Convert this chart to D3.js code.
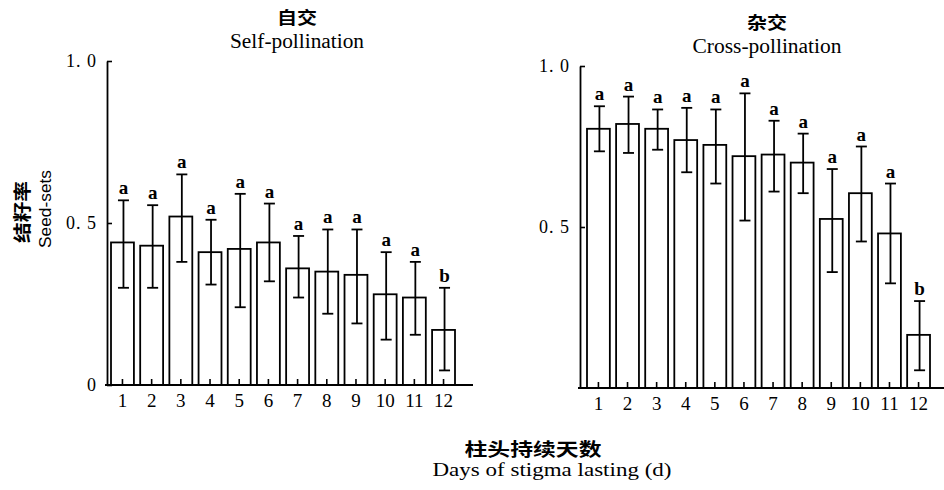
<!DOCTYPE html>
<html>
<head>
<meta charset="utf-8">
<script src="https://cdn.jsdelivr.net/npm/d3@7/dist/d3.min.js"></script>
<style>
  body { margin: 0; background: #fff; }
  text { fill: #000; }
  .serif { font-family: "Liberation Serif", "Times New Roman", serif; }
  .cjk { font-family: "Noto Sans CJK SC", sans-serif; font-weight: 700; }
</style>
</head>
<body>
<div id="chart"></div>
<script>
// stigma lasting days
var days = ["1","2","3","4","5","6","7","8","9","10","11","12"];

// self-pollination seed-sets (mean, upper and lower end of error bar)
var selfMean = [0.44, 0.43, 0.52, 0.41, 0.42, 0.44, 0.36, 0.35, 0.34, 0.28, 0.27, 0.17];
var selfHi   = [0.57, 0.555, 0.65, 0.51, 0.59, 0.56, 0.46, 0.48, 0.48, 0.41, 0.38, 0.30];
var selfLo   = [0.30, 0.30, 0.38, 0.31, 0.24, 0.32, 0.27, 0.22, 0.19, 0.14, 0.155, 0.045];
var selfSig  = ["a","a","a","a","a","a","a","a","a","a","a","b"];

// cross-pollination seed-sets
var crossMean = [0.805, 0.82, 0.805, 0.77, 0.755, 0.72, 0.725, 0.70, 0.525, 0.605, 0.48, 0.165];
var crossHi   = [0.875, 0.905, 0.865, 0.87, 0.865, 0.915, 0.83, 0.79, 0.68, 0.75, 0.635, 0.27];
var crossLo   = [0.735, 0.73, 0.74, 0.67, 0.635, 0.52, 0.61, 0.605, 0.36, 0.455, 0.325, 0.055];
var crossSig  = ["a","a","a","a","a","a","a","a","a","a","a","b"];

var selfTicks = [0, 0.5, 1.0];
var crossTicks = [0.5, 1.0];

var width = 944, height = 490;

var svg = d3.select("#chart")
  .append("svg")
  .attr("width", width)
  .attr("height", height);

function fmt(v) {
  if (v === 0) return "0";
  return d3.format(".1f")(v).replace(".", ". ");
}

function DrawPanel(opt) {
  var x = d3.scaleBand()
    .domain(days)
    .range([opt.left, opt.right])
    .paddingInner(0.215)
    .paddingOuter(0);
  var y = d3.scaleLinear()
    .domain([0, 1])
    .range([opt.bottom, opt.top]);

  var data = days.map(function(d, i) {
    return { day: d, mean: opt.mean[i], hi: opt.hi[i], lo: opt.lo[i], sig: opt.sig[i] };
  });

  var g = svg.append("g");

  // bars
  g.selectAll(".bar")
    .data(data)
    .enter().append("rect")
    .attr("x", function(d) { return x(d.day); })
    .attr("width", x.bandwidth())
    .attr("y", function(d) { return y(d.mean); })
    .attr("height", function(d) { return y(0) - y(d.mean); })
    .attr("fill", "#fff")
    .attr("stroke", "#000")
    .attr("stroke-width", 1.8);

  // error bars
  var cap = 5.5;
  var eb = g.selectAll(".err")
    .data(data)
    .enter().append("g")
    .attr("transform", function(d) { return "translate(" + (x(d.day) + x.bandwidth() / 2 + 1) + ",0)"; });
  eb.append("line")
    .attr("y1", function(d) { return y(d.lo); })
    .attr("y2", function(d) { return y(d.hi); })
    .attr("stroke", "#000").attr("stroke-width", 1.8);
  eb.append("line")
    .attr("x1", -cap).attr("x2", cap)
    .attr("y1", function(d) { return y(d.hi); })
    .attr("y2", function(d) { return y(d.hi); })
    .attr("stroke", "#000").attr("stroke-width", 1.8);
  eb.append("line")
    .attr("x1", -cap).attr("x2", cap)
    .attr("y1", function(d) { return y(d.lo); })
    .attr("y2", function(d) { return y(d.lo); })
    .attr("stroke", "#000").attr("stroke-width", 1.8);
  eb.append("text")
    .attr("class", "serif")
    .attr("y", function(d) { return y(d.hi) - 6; })
    .attr("text-anchor", "middle")
    .style("font-size", "19px")
    .style("font-weight", "bold")
    .text(function(d) { return d.sig; });

  // x axis
  var xAxis = g.append("g")
    .attr("transform", "translate(0," + y(0) + ")")
    .call(d3.axisBottom(x).tickSizeInner(-6).tickSizeOuter(0).tickPadding(9));
  xAxis.select(".domain").remove();
  xAxis.selectAll(".tick line").attr("stroke-width", 1.6);
  xAxis.selectAll("text")
    .attr("class", "serif")
    .style("font-size", "19px");
  g.append("line")
    .attr("x1", opt.axisX - 2).attr("x2", opt.axisEnd)
    .attr("y1", y(0)).attr("y2", y(0))
    .attr("stroke", "#000").attr("stroke-width", 1.8);

  // y axis
  var yAxis = g.append("g")
    .attr("transform", "translate(" + opt.axisX + ",0)")
    .call(d3.axisLeft(y).tickValues(opt.ticks).tickFormat(fmt)
      .tickSizeInner(-5).tickSizeOuter(0).tickPadding(10));
  yAxis.select(".domain").attr("stroke-width", 1.8);
  yAxis.selectAll(".tick line").attr("stroke-width", 1.6);
  yAxis.selectAll("text")
    .attr("class", "serif")
    .style("font-size", "18px")
    .style("letter-spacing", "1px");

  // titles
  g.append("text")
    .attr("class", "cjk")
    .attr("x", opt.titleX)
    .attr("y", opt.top - 37)
    .attr("text-anchor", "middle")
    .style("font-size", "17px")
    .attr("textLength", 40)
    .attr("lengthAdjust", "spacingAndGlyphs")
    .text(opt.cn);
  g.append("text")
    .attr("class", "serif")
    .attr("x", opt.titleX)
    .attr("y", opt.top - 13)
    .attr("text-anchor", "middle")
    .style("font-size", "20px")
    .attr("textLength", opt.enLen)
    .attr("lengthAdjust", "spacingAndGlyphs")
    .text(opt.en);
}

DrawPanel({
  mean: selfMean, hi: selfHi, lo: selfLo, sig: selfSig, ticks: selfTicks,
  left: 111, right: 455, axisX: 107, axisEnd: 473, top: 61, bottom: 385,
  titleX: 297, cn: "自交", en: "Self-pollination", enLen: 134
});

DrawPanel({
  mean: crossMean, hi: crossHi, lo: crossLo, sig: crossSig, ticks: crossTicks,
  left: 587, right: 930, axisX: 580, axisEnd: 944, top: 66, bottom: 388,
  titleX: 767, cn: "杂交", en: "Cross-pollination", enLen: 149
});

// shared y label
svg.append("text")
  .attr("class", "cjk")
  .attr("transform", "translate(29,212) rotate(-90)")
  .attr("text-anchor", "middle")
  .style("font-size", "18px")
  .attr("textLength", 62)
  .attr("lengthAdjust", "spacingAndGlyphs")
  .text("结籽率");
svg.append("text")
  .attr("transform", "translate(51,209) rotate(-90)")
  .attr("text-anchor", "middle")
  .style("font-family", "\"Liberation Sans\", Arial, sans-serif")
  .style("font-size", "17px")
  .attr("textLength", 78)
  .attr("lengthAdjust", "spacingAndGlyphs")
  .text("Seed-sets");

// shared x label
svg.append("text")
  .attr("class", "cjk")
  .attr("x", 533).attr("y", 456)
  .attr("text-anchor", "middle")
  .style("font-size", "18px")
  .attr("textLength", 137)
  .attr("lengthAdjust", "spacingAndGlyphs")
  .text("柱头持续天数");
svg.append("text")
  .attr("class", "serif")
  .attr("x", 552).attr("y", 476)
  .attr("text-anchor", "middle")
  .style("font-size", "19px")
  .attr("textLength", 239)
  .attr("lengthAdjust", "spacingAndGlyphs")
  .text("Days of stigma lasting (d)");
</script>
</body>
</html>
